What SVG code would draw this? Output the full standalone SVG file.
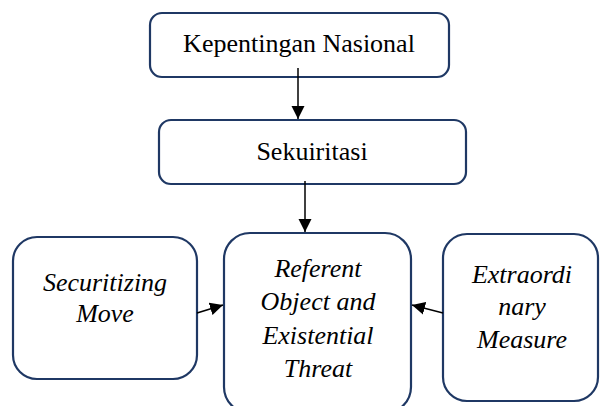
<svg xmlns="http://www.w3.org/2000/svg" width="600" height="406" viewBox="0 0 600 406">
<style>
.box{fill:#fff;stroke:#1f3864;stroke-width:2.2}
.c{stroke:#000;stroke-width:1.5;fill:none}
</style>
<defs>
<marker id="ah" markerUnits="userSpaceOnUse" markerWidth="14" markerHeight="14" refX="13" refY="7" orient="auto">
<path d="M0,0.5 L13,7 L0,13.5 z" fill="#000"/>
</marker>
</defs>
<rect width="600" height="406" fill="#fff"/>
<g id="n1">
<rect class="box" x="150" y="13" width="299" height="64" rx="12"/>
<text x="299" y="52" text-anchor="middle" style="font-family:'Liberation Serif',serif;font-size:26px">Kepentingan Nasional</text>
</g>
<g id="n2">
<rect class="box" x="159" y="120" width="307" height="64" rx="12"/>
<text x="312" y="160" text-anchor="middle" style="font-family:'Liberation Serif',serif;font-size:26px">Sekuiritasi</text>
</g>
<g id="n3">
<rect class="box" x="224" y="233" width="187" height="180" rx="26"/>
<text x="318" y="277" text-anchor="middle" style="font-family:'Liberation Serif',serif;font-size:26px;font-style:italic">Referent</text>
<text x="318" y="310" text-anchor="middle" style="font-family:'Liberation Serif',serif;font-size:26px;font-style:italic">Object and</text>
<text x="318" y="344" text-anchor="middle" style="font-family:'Liberation Serif',serif;font-size:26px;font-style:italic">Existential</text>
<text x="318" y="377" text-anchor="middle" style="font-family:'Liberation Serif',serif;font-size:26px;font-style:italic">Threat</text>
</g>
<g id="n4">
<rect class="box" x="13" y="237" width="184" height="142" rx="24"/>
<text x="105" y="291" text-anchor="middle" style="font-family:'Liberation Serif',serif;font-size:26px;font-style:italic">Securitizing</text>
<text x="105" y="322" text-anchor="middle" style="font-family:'Liberation Serif',serif;font-size:26px;font-style:italic">Move</text>
</g>
<g id="n5">
<rect class="box" x="443" y="234" width="155" height="167" rx="24"/>
<text x="522" y="283" text-anchor="middle" style="font-family:'Liberation Serif',serif;font-size:26px;font-style:italic">Extraordi</text>
<text x="522" y="315" text-anchor="middle" style="font-family:'Liberation Serif',serif;font-size:26px;font-style:italic">nary</text>
<text x="522" y="348" text-anchor="middle" style="font-family:'Liberation Serif',serif;font-size:26px;font-style:italic">Measure</text>
</g>
<g id="connectors">
<line class="c" x1="298" y1="68" x2="298" y2="119" marker-end="url(#ah)"/>
<line class="c" x1="305" y1="181" x2="305" y2="232" marker-end="url(#ah)"/>
<line class="c" x1="197" y1="313" x2="223" y2="305" marker-end="url(#ah)"/>
<line class="c" x1="443" y1="313" x2="412" y2="305" marker-end="url(#ah)"/>
</g>
</svg>
